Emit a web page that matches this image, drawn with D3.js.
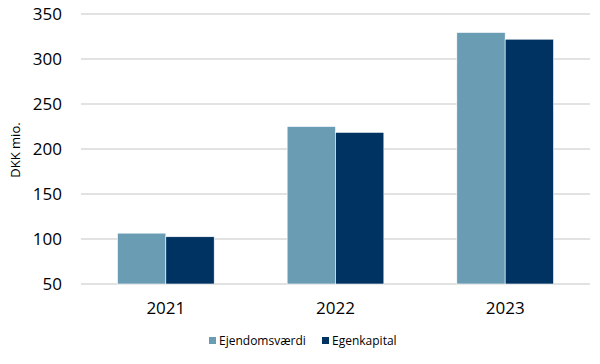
<!DOCTYPE html>
<html>
<head>
<meta charset="utf-8">
<script src="https://cdn.jsdelivr.net/npm/d3@7"></script>
<style>
  body { margin: 0; background: #fff; }
  text { font-family: "Open Sans", sans-serif; fill: #000; }
</style>
</head>
<body>
<div id="chart"></div>
<script>
// Data
var years = ["2021", "2022", "2023"];
var seriesNames = ["Ejendomsværdi", "Egenkapital"];
var ejendomsvaerdi = [106.5, 225, 329.5];
var egenkapital = [102.5, 218.5, 322];
var yTicks = [50, 100, 150, 200, 250, 300, 350];
var colors = ["#6A9DB4", "#003361"];

var svgWidth = 600;
var svgHeight = 364;

var margin = { top: 14, right: 10, bottom: 80, left: 81 };
var chartWidth = 590 - margin.left;
var chartHeight = 284 - margin.top;

var svg = d3.select("#chart")
    .append("svg")
    .attr("width", svgWidth)
    .attr("height", svgHeight);

var chartGroup = svg.append("g")
    .attr("transform", `translate(${margin.left},${margin.top})`);

var xScale = d3.scaleBand()
    .domain(years)
    .range([0, chartWidth])
    .paddingInner(0.43)
    .paddingOuter(0.215);

var xInner = d3.scaleBand()
    .domain(seriesNames)
    .range([0, xScale.bandwidth()]);

var yScale = d3.scaleLinear()
    .domain([50, 350])
    .range([chartHeight, 0]);

// Gridlines
chartGroup.selectAll(".grid")
    .data(yTicks)
    .enter()
    .append("line")
    .attr("x1", 0)
    .attr("x2", chartWidth)
    .attr("y1", d => yScale(d))
    .attr("y2", d => yScale(d))
    .attr("stroke", "#D9D9D9")
    .attr("stroke-width", 1.3);

// Y axis labels
var yAxis = d3.axisLeft(yScale).tickValues(yTicks).tickSize(0).tickPadding(19);
chartGroup.append("g")
    .call(yAxis)
    .call(g => g.select(".domain").remove())
    .selectAll("text")
    .style("font-size", "17px")
    .style("font-family", "'Open Sans', sans-serif")
    .attr("fill", "#000");

// Bars
var rows = years.map((y, i) => ({ year: y, values: [ejendomsvaerdi[i], egenkapital[i]] }));

var groups = chartGroup.selectAll(".year")
    .data(rows)
    .enter()
    .append("g")
    .attr("transform", d => `translate(${xScale(d.year)},0)`);

groups.selectAll("rect")
    .data(d => d.values.map((v, i) => ({ key: seriesNames[i], value: v, i: i })))
    .enter()
    .append("rect")
    .attr("x", d => xInner(d.key))
    .attr("width", xInner.bandwidth())
    .attr("y", d => yScale(d.value))
    .attr("height", d => chartHeight - yScale(d.value))
    .attr("fill", d => colors[d.i])
    .attr("stroke", "#fff")
    .attr("stroke-width", 0.6);

// X axis labels
var xAxis = d3.axisBottom(xScale).tickSize(0).tickPadding(18);
chartGroup.append("g")
    .attr("transform", `translate(0,${chartHeight})`)
    .call(xAxis)
    .call(g => g.select(".domain").remove())
    .selectAll("text")
    .style("font-size", "17px")
    .style("font-family", "'Open Sans', sans-serif")
    .attr("fill", "#000");

// Y axis title
svg.append("text")
    .attr("transform", "translate(20,150) rotate(-90)")
    .attr("text-anchor", "middle")
    .style("font-size", "13px")
    .text("DKK mio.");

// Legend
var legendX = [209, 322];
var legend = svg.selectAll(".legend")
    .data(seriesNames)
    .enter()
    .append("g")
    .attr("transform", (d, i) => `translate(${legendX[i]},341)`);

legend.append("rect")
    .attr("x", 0)
    .attr("y", -4)
    .attr("width", 7)
    .attr("height", 7)
    .attr("fill", (d, i) => colors[i]);

legend.append("text")
    .attr("x", 10)
    .attr("y", 4)
    .style("font-size", "12px")
    .attr("fill", "#333")
    .text(d => d);
</script>
</body>
</html>
